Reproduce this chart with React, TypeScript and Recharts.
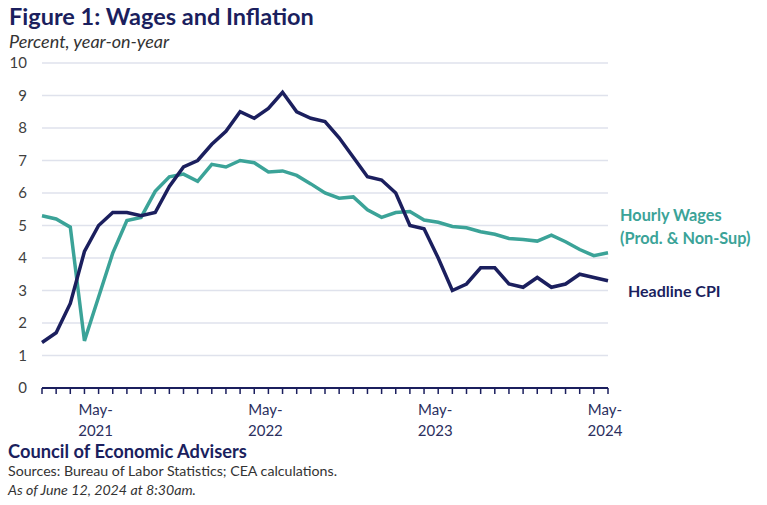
import React from "react";
import { LineChart, Line, XAxis, YAxis, CartesianGrid } from "recharts";

const months = [
  "Jan-2021","Feb-2021","Mar-2021","Apr-2021","May-2021","Jun-2021","Jul-2021","Aug-2021","Sep-2021","Oct-2021","Nov-2021","Dec-2021",
  "Jan-2022","Feb-2022","Mar-2022","Apr-2022","May-2022","Jun-2022","Jul-2022","Aug-2022","Sep-2022","Oct-2022","Nov-2022","Dec-2022",
  "Jan-2023","Feb-2023","Mar-2023","Apr-2023","May-2023","Jun-2023","Jul-2023","Aug-2023","Sep-2023","Oct-2023","Nov-2023","Dec-2023",
  "Jan-2024","Feb-2024","Mar-2024","Apr-2024","May-2024",
];

const headlineCPI = [
  1.4, 1.7, 2.6, 4.2, 5.0, 5.4, 5.4, 5.3, 5.4, 6.2, 6.8, 7.0,
  7.5, 7.9, 8.5, 8.3, 8.6, 9.1, 8.5, 8.3, 8.2, 7.7, 7.1, 6.5,
  6.4, 6.0, 5.0, 4.9, 4.0, 3.0, 3.2, 3.7, 3.7, 3.2, 3.1, 3.4,
  3.1, 3.2, 3.5, 3.4, 3.3,
];

const hourlyWages = [
  5.3, 5.2, 4.95, 1.45, 2.8, 4.15, 5.15, 5.25, 6.05, 6.5, 6.58, 6.36,
  6.88, 6.8, 7.0, 6.93, 6.65, 6.68, 6.54, 6.28, 6.0, 5.84, 5.88, 5.48,
  5.25, 5.4, 5.43, 5.17, 5.1, 4.97, 4.93, 4.81, 4.73, 4.6, 4.57, 4.52,
  4.7, 4.5, 4.26, 4.07, 4.16,
];

const yTicks = [0, 1, 2, 3, 4, 5, 6, 7, 8, 9, 10];

const data = months.map((m, i) => ({ m, cpi: headlineCPI[i], wages: hourlyWages[i] }));

const NAVY = "#1b1f5e";
const TEAL = "#3ba398";
const FONT = "Lato, 'Open Sans', sans-serif";

const XTick = (props: any) => {
  const { x, y, payload } = props;
  const v: string = payload.value;
  if (!v.startsWith("May")) return null;
  const [mon, yr] = v.split("-");
  return (
    <g>
      <text x={x - 3} y={y} dy={21} textAnchor="middle" fontSize={15} fill="#2c3060" fontFamily={FONT}>
        {mon + "-"}
      </text>
      <text x={x - 3} y={y} dy={42} textAnchor="middle" fontSize={15} fill="#2c3060" fontFamily={FONT}>
        {yr}
      </text>
    </g>
  );
};

export default function App() {
  return (
    <div style={{ position: "absolute", left: 0, top: 0, width: 767, height: 505, background: "#fff", fontFamily: FONT }}>
      <div style={{ position: "absolute", left: 9, top: 2, fontSize: 23.5, fontWeight: 700, color: NAVY, whiteSpace: "nowrap" }}>
        Figure 1: Wages and Inflation
      </div>
      <div style={{ position: "absolute", left: 9, top: 30, fontSize: 18, fontStyle: "italic", color: "#333", whiteSpace: "nowrap" }}>
        Percent, year-on-year
      </div>
      <LineChart
        width={767}
        height={505}
        data={data}
        margin={{ top: 63, right: 159, left: 6, bottom: 87 }}
      >
        <CartesianGrid vertical={false} stroke="#dfe2ec" strokeWidth={1.5} />
        <XAxis
          dataKey="m"
          scale="point"
          padding={{ left: 0, right: 0 }}
          interval={0}
          height={30}
          axisLine={{ stroke: NAVY, strokeWidth: 2 }}
          tickLine={{ stroke: NAVY, strokeWidth: 1.5 }}
          tickSize={6}
          tickMargin={0}
          tick={<XTick />}
        />
        <YAxis
          domain={[0, 10]}
          ticks={yTicks}
          width={36}
          axisLine={false}
          tickLine={false}
          tickSize={0}
          tickMargin={15}
          tick={{ fontSize: 15, fill: "#404040", fontFamily: FONT }}
          interval={0}
        />
        <Line type="linear" dataKey="wages" stroke={TEAL} strokeWidth={3.5} dot={false} isAnimationActive={false} />
        <Line type="linear" dataKey="cpi" stroke={NAVY} strokeWidth={3.5} dot={false} isAnimationActive={false} />
      </LineChart>
      <div style={{ position: "absolute", left: 620, top: 203, fontSize: 16.3, fontWeight: 700, color: TEAL, lineHeight: "23px", whiteSpace: "nowrap" }}>
        Hourly Wages
        <br />
        (Prod. &amp; Non-Sup)
      </div>
      <div style={{ position: "absolute", left: 628, top: 281, fontSize: 16, fontWeight: 700, color: NAVY, whiteSpace: "nowrap" }}>
        Headline CPI
      </div>
      <div style={{ position: "absolute", left: 8, top: 442, fontSize: 18.3, lineHeight: "18px", fontWeight: 700, color: NAVY, whiteSpace: "nowrap" }}>
        Council of Economic Advisers
      </div>
      <div style={{ position: "absolute", left: 8, top: 463, fontSize: 14.2, lineHeight: "15px", color: "#333", whiteSpace: "nowrap" }}>
        Sources: Bureau of Labor Statistics; CEA calculations.
      </div>
      <div style={{ position: "absolute", left: 8, top: 482, fontSize: 14.2, lineHeight: "15px", fontStyle: "italic", color: "#333", whiteSpace: "nowrap" }}>
        As of June 12, 2024 at 8:30am.
      </div>
    </div>
  );
}
